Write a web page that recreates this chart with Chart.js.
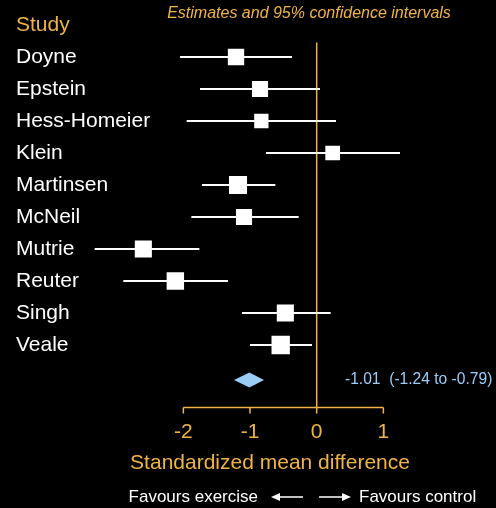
<!DOCTYPE html>
<html>
<head>
<meta charset="utf-8">
<script src="https://cdn.jsdelivr.net/npm/chart.js@4"></script>
<style>
  body { margin: 0; background: #000; }
  #wrap { width: 496px; height: 508px; }
</style>
</head>
<body>
<div id="wrap"><canvas id="grafico"></canvas></div>
<script>
const studies = ['Doyne', 'Epstein', 'Hess-Homeier', 'Klein', 'Martinsen', 'McNeil', 'Mutrie', 'Reuter', 'Singh', 'Veale'];
const estimates = [-1.21, -0.85, -0.83, 0.24, -1.18, -1.09, -2.60, -2.12, -0.47, -0.54];
const lower = [-2.05, -1.75, -1.95, -0.76, -1.72, -1.88, -3.33, -2.90, -1.12, -1.00];
const upper = [-0.37, 0.05, 0.29, 1.25, -0.62, -0.27, -1.76, -1.33, 0.21, -0.07];
const weights = [9.5, 9.2, 7.3, 7.7, 11.6, 9.2, 10.4, 10.8, 10.4, 12.0];
const pooledEst = -1.01;
const pooledLow = -1.24;
const pooledHigh = -0.79;
const xTicks = [-2, -1, 0, 1];

const ORANGE = '#f0b444';
const BLUE = '#9bcdf7';
const FONT = '"Liberation Sans", Arial, sans-serif';

const ctx = document.getElementById('grafico').getContext('2d');

// una linea per ogni intervallo di confidenza
const ciSets = studies.map((s, i) => ({
  type: 'line',
  data: [{ x: lower[i], y: i }, { x: upper[i], y: i }],
  borderColor: '#fff',
  borderWidth: 2,
  pointRadius: 0,
  order: 2
}));

const boxes = {
  type: 'scatter',
  data: estimates.map((v, i) => ({ x: v, y: i })),
  pointStyle: 'rect',
  pointRadius: weights.map(w => 3.75 * Math.sqrt(w)),
  backgroundColor: '#fff',
  borderColor: '#fff',
  borderWidth: 0,
  order: 1
};

const forestPlugin = {
  id: 'forest',
  beforeDatasetsDraw(chart) {
    const c = chart.ctx, x = chart.scales.x, a = chart.chartArea;
    const x0 = x.getPixelForValue(0);
    c.save();
    c.strokeStyle = ORANGE;
    c.lineWidth = 1.5;
    c.beginPath();
    c.moveTo(x0, a.top);
    c.lineTo(x0, a.bottom);
    c.stroke();
    c.restore();
  },
  afterDraw(chart) {
    const c = chart.ctx, x = chart.scales.x, y = chart.scales.y, a = chart.chartArea;
    c.save();
    // titolo e intestazione
    c.fillStyle = ORANGE;
    c.font = 'italic 16px ' + FONT;
    c.textAlign = 'center';
    c.textBaseline = 'middle';
    c.fillText('Estimates and 95% confidence intervals', 309, 14);
    c.font = '21px ' + FONT;
    c.textAlign = 'left';
    c.fillText('Study', 16, 25);
    // nomi degli studi
    c.fillStyle = '#fff';
    c.font = '21px ' + FONT;
    studies.forEach((s, i) => c.fillText(s, 16, y.getPixelForValue(i)));
    // asse x
    const xl = x.getPixelForValue(xTicks[0]);
    const xr = x.getPixelForValue(xTicks[xTicks.length - 1]);
    c.strokeStyle = ORANGE;
    c.lineWidth = 1.5;
    c.beginPath();
    c.moveTo(xl, a.bottom);
    c.lineTo(xr, a.bottom);
    xTicks.forEach(t => {
      const px = x.getPixelForValue(t);
      c.moveTo(px, a.bottom);
      c.lineTo(px, a.bottom + 6);
    });
    c.stroke();
    c.fillStyle = ORANGE;
    c.font = '21px ' + FONT;
    c.textAlign = 'center';
    xTicks.forEach(t => c.fillText(String(t), x.getPixelForValue(t), a.bottom + 25));
    c.fillText('Standardized mean difference', x.getPixelForValue(-0.7), a.bottom + 56);
    // diamante della stima combinata
    const py = y.getPixelForValue(studies.length) + 3;
    c.fillStyle = BLUE;
    c.beginPath();
    c.moveTo(x.getPixelForValue(pooledLow), py);
    c.lineTo(x.getPixelForValue(pooledEst), py - 7.5);
    c.lineTo(x.getPixelForValue(pooledHigh), py);
    c.lineTo(x.getPixelForValue(pooledEst), py + 7.5);
    c.closePath();
    c.fill();
    c.font = '15.6px ' + FONT;
    c.textAlign = 'left';
    c.fillText(pooledEst.toFixed(2) + '  (' + pooledLow.toFixed(2) + ' to ' + pooledHigh.toFixed(2) + ')', 345, py);
    // frecce
    const fy = 497;
    c.fillStyle = '#fff';
    c.strokeStyle = '#fff';
    c.lineWidth = 1.6;
    c.font = '17px ' + FONT;
    c.textAlign = 'right';
    c.fillText('Favours exercise', 258, fy);
    c.textAlign = 'left';
    c.fillText('Favours control', 359, fy);
    c.beginPath();
    c.moveTo(303, fy); c.lineTo(278, fy);
    c.moveTo(319, fy); c.lineTo(344, fy);
    c.stroke();
    c.beginPath();
    c.moveTo(271, fy); c.lineTo(280, fy - 4); c.lineTo(280, fy + 4); c.closePath();
    c.moveTo(351, fy); c.lineTo(342, fy - 4); c.lineTo(342, fy + 4); c.closePath();
    c.fill();
    c.restore();
  }
};

new Chart(ctx, {
  data: { datasets: [...ciSets, boxes] },
  options: {
    responsive: true,
    maintainAspectRatio: false,
    animation: false,
    layout: { padding: { left: 90, right: 19.3, top: 42.6, bottom: 100.6 } },
    plugins: {
      legend: { display: false },
      tooltip: { enabled: false }
    },
    scales: {
      x: { type: 'linear', min: -3.4, max: 2.4, display: false },
      y: { type: 'linear', min: -0.45, max: 10.95, reverse: true, display: false }
    }
  },
  plugins: [forestPlugin]
});
</script>
</body>
</html>
